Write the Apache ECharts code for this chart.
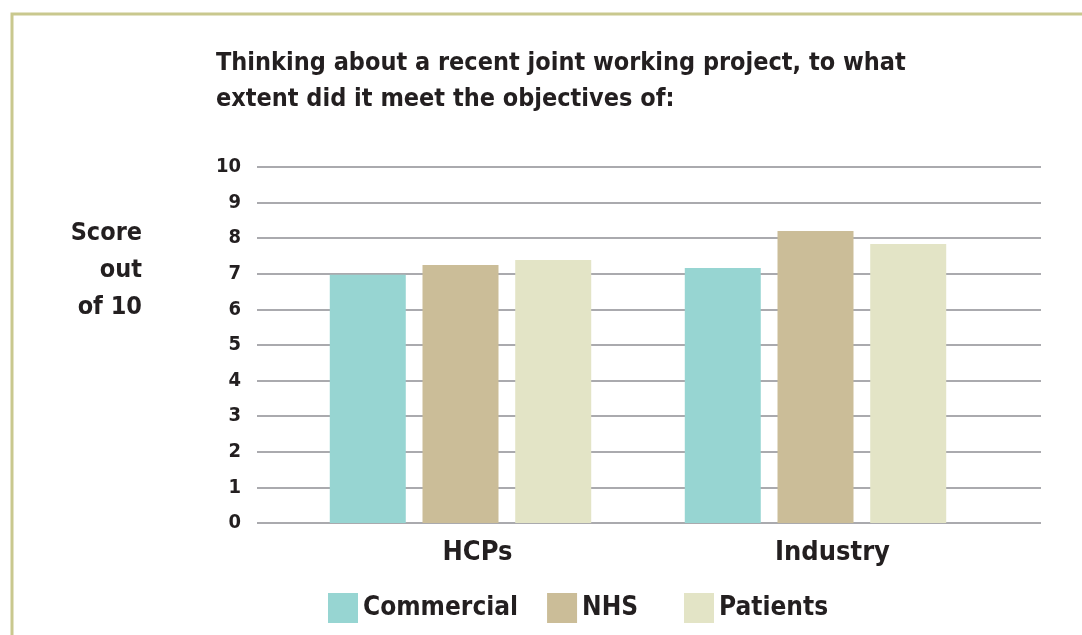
<!DOCTYPE html>
<html>
<head>
<meta charset="utf-8">
<script src="https://cdn.jsdelivr.net/npm/echarts@6/dist/echarts.min.js"></script>
<style>
html,body{margin:0;padding:0;background:#fff;}
#chart{width:1082px;height:635px;}
</style>
</head>
<body>
<div id="chart"></div>
<script>
var categories = ['HCPs', 'Industry'];
var seriesNames = ['Commercial', 'NHS', 'Patients'];
var commercial = [6.97, 7.16];
var nhs = [7.25, 8.2];
var patients = [7.39, 7.84];
var yTicks = [0, 10, 1];
var titleText = 'Thinking about a recent joint working project, to what\nextent did it meet the objectives of:';
var yName = 'Score\nout\nof 10';

var FONT = "'Liberation Sans Narrow', 'DejaVu Sans Condensed', 'Roboto Condensed', sans-serif";
var TXT = '#231f20';
var colors = ['#97d5d2', '#cbbd98', '#e3e4c6'];

var chart = echarts.init(document.getElementById('chart'));
var values = [commercial, nhs, patients];
var legendBase = {
  top: 593, padding: 0,
  itemWidth: 30, itemHeight: 30, itemGap: 29,
  icon: 'rect',
  textStyle: { fontFamily: FONT, fontSize: 26, fontWeight: 'bold', color: TXT }
};
chart.setOption({
  animation: false,
  color: colors,
  textStyle: { fontFamily: FONT },
  title: {
    text: titleText,
    left: 216, top: 45, padding: 0,
    textStyle: { fontFamily: FONT, fontSize: 25, fontWeight: 'bold', color: TXT, lineHeight: 36 }
  },
  legend: [
    Object.assign({}, legendBase, { left: 328, data: seriesNames.slice(0, 2) }),
    Object.assign({}, legendBase, { left: 684, data: seriesNames.slice(2) })
  ],
  grid: [
    { left: 257, right: 41, top: 167, bottom: 112 },
    { left: 283, right: 89, top: 167, bottom: 112 }
  ],
  xAxis: [
    { type: 'category', gridIndex: 0, data: categories, show: false },
    { type: 'category', gridIndex: 1, data: categories,
      axisLine: { show: false }, axisTick: { show: false },
      axisLabel: { margin: 16, padding: [0, 0, 0, 34], fontFamily: FONT, fontSize: 27, fontWeight: 'bold', color: TXT } }
  ],
  yAxis: [
    { type: 'value', gridIndex: 0, min: yTicks[0], max: yTicks[1], interval: yTicks[2],
      axisLine: { show: false }, axisTick: { show: false },
      splitLine: { lineStyle: { color: '#aaaaae', width: 2 } },
      axisLabel: { margin: 16, fontFamily: FONT, fontSize: 20, fontWeight: 'bold', color: TXT } },
    { type: 'value', gridIndex: 1, min: yTicks[0], max: yTicks[1], interval: yTicks[2], show: false,
      splitLine: { show: false } }
  ],
  series: seriesNames.map(function (n, i) {
    return { name: n, type: 'bar', xAxisIndex: 1, yAxisIndex: 1, data: values[i],
      barWidth: 76, barGap: '22%' };
  }),
  graphic: [
    { type: 'polyline', shape: { points: [[12, 635], [12, 14], [1082, 14]] },
      style: { stroke: '#c9c88e', lineWidth: 3, fill: null } },
    { type: 'text', x: 142, y: 215,
      style: { text: yName, textAlign: 'right', textVerticalAlign: 'top', fill: TXT,
        font: 'bold 25px ' + FONT, lineHeight: 37 } }
  ]
});
</script>
</body>
</html>
